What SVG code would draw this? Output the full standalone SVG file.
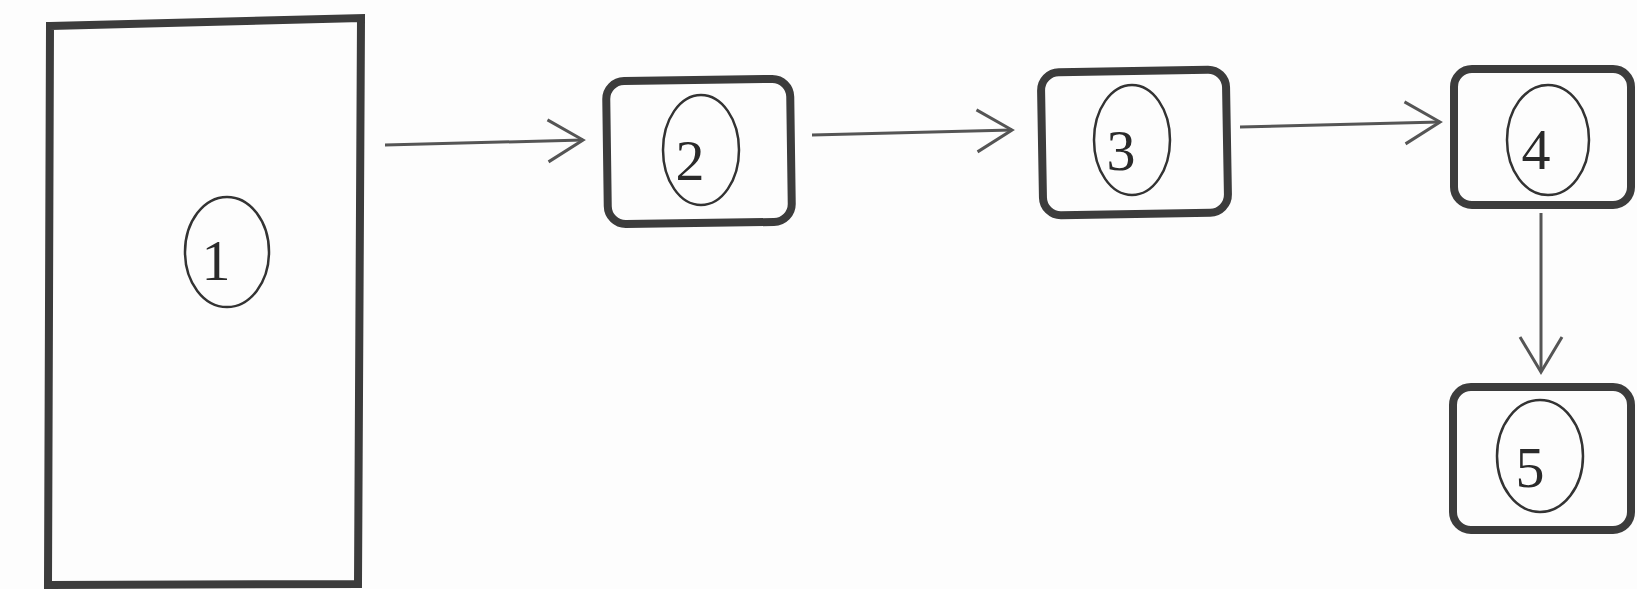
<svg xmlns="http://www.w3.org/2000/svg" width="1637" height="589" viewBox="0 0 1637 589">
  <style>
    .box { fill: none; stroke: #3c3c3c; stroke-width: 8; }
    .oval { fill: none; stroke: #333; stroke-width: 2.5; }
    .num { font-family: "Liberation Serif", "Times New Roman", serif; font-size: 58px; fill: #2a2a2a; text-anchor: middle; }
    .conn { fill: none; stroke: #555; stroke-width: 3; marker-end: url(#arrow); }
  </style>
  <defs>
    <marker id="arrow" markerUnits="userSpaceOnUse" viewBox="-40 -25 45 50" refX="0" refY="0" markerWidth="45" markerHeight="50" orient="auto">
      <path d="M-35,-21 L0,0 L-35,21" fill="none" stroke="#555" stroke-width="3" stroke-linejoin="miter"/>
    </marker>
  </defs>
  <rect width="1637" height="589" fill="#fdfdfd"/>

  <g id="node1">
    <polygon class="box" points="50,26 361,18 358,584 48,585"/>
    <ellipse class="oval" cx="227" cy="252" rx="42" ry="55"/>
    <text class="num" x="216" y="280">1</text>
  </g>
  <g id="node2">
    <rect class="box" x="607" y="80" width="184" height="143" rx="18" transform="rotate(-0.8 699 151)"/>
    <ellipse class="oval" cx="701" cy="150" rx="38" ry="55"/>
    <text class="num" x="690" y="180">2</text>
  </g>
  <g id="node3">
    <rect class="box" x="1042" y="71" width="185" height="143" rx="18" transform="rotate(-1 1134 142)"/>
    <ellipse class="oval" cx="1132" cy="140" rx="38" ry="55"/>
    <text class="num" x="1121" y="170">3</text>
  </g>
  <g id="node4">
    <rect class="box" x="1454" y="69" width="177" height="136" rx="18"/>
    <ellipse class="oval" cx="1548" cy="140" rx="41" ry="55"/>
    <text class="num" x="1536" y="169">4</text>
  </g>
  <g id="node5">
    <rect class="box" x="1453" y="387" width="178" height="143" rx="18"/>
    <ellipse class="oval" cx="1540" cy="456" rx="43" ry="56"/>
    <text class="num" x="1530" y="487">5</text>
  </g>

  <g id="connectors">
    <path class="conn" d="M385,145 L583,140"/>
    <path class="conn" d="M812,135 L1012,130"/>
    <path class="conn" d="M1240,127 L1440,122"/>
    <path class="conn" d="M1541,213 L1541,372"/>
  </g>
</svg>
